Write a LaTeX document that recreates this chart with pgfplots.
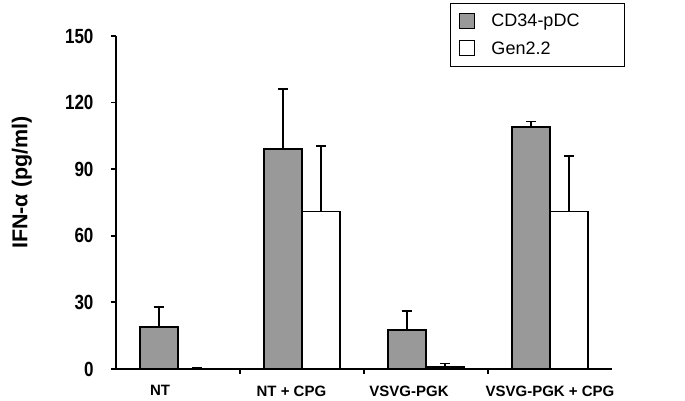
\documentclass[border=0pt]{standalone}
\usepackage{pgfplots}
\pgfplotsset{compat=1.18}
\usepackage{fontspec}
\setmainfont{Liberation Sans}
\newfontfamily\narrowbold[FakeStretch=0.83]{Liberation Sans Bold}
\definecolor{barGray}{HTML}{999999}
\pgfplotsset{sqlegend/.style={legend image code/.code={%
  \draw[##1,/tikz/.cd,line width=1.2pt] (0pt,-7pt) rectangle (15pt,8pt);
  \path[draw=none,fill=none] (0pt,0pt) rectangle (24pt,1pt);}}}

\begin{document}
\begin{tikzpicture}
\useasboundingbox (-116pt,-32pt) rectangle (569pt,369pt);
\begin{axis}[
  scale only axis, width=496pt, height=333pt,
  ybar=0pt, bar width=38pt,
  xmin=-0.5, xmax=3.5, ymin=0, ymax=150,
  ytick={0,30,...,150},
  xtick={-0.145,0.915,1.863,3.0},
  xticklabels={NT, NT + CPG, VSVG-PGK, VSVG-PGK + CPG},
  minor xtick={0.5,1.5,2.5},
  axis x line*=bottom, axis y line*=left,
  axis line style={line width=2.2pt},
  major x tick style={draw=none},
  minor tick length=5pt,
  major tick length=5pt,
  tick style={line width=1.8pt, black},
  ytick align=outside, xtick align=outside,
  /pgf/number format/assume math mode=true,
  yticklabel style={font=\narrowbold\fontsize{20.5}{21}\selectfont, xshift=-14pt},
  xticklabel style={font=\bfseries\fontsize{15}{15}\selectfont, yshift=-8pt},
  ylabel={IFN-α (pg/ml)},
  ylabel style={font=\bfseries\fontsize{21.5}{22}\selectfont, at={(axis description cs:-0.19,0.56)}, anchor=center},
  legend style={at={(1.026,1.099)}, anchor=north east, draw=black, line width=0.8pt,
    font=\fontsize{18}{20}\selectfont, nodes={text width=117pt, inner xsep=8pt}, row sep=9pt,
    inner xsep=8pt, inner ysep=9pt},
  legend cell align=left,
  error bars/y dir=plus, error bars/y explicit,
  error bars/error bar style={line width=1.6pt, black},
  error bars/error mark options={rotate=90, mark size=5pt, line width=1.6pt, black},
]
\addplot[fill=barGray, draw=black, line width=1.5pt, sqlegend]
  coordinates {(0,19) +- (0,9) (1,99) +- (0,27) (2,17.5) +- (0,8.5) (3,109) +- (0,2.5)};
\addlegendentry{CD34-pDC}
\addplot[fill=white, draw=black, line width=1.5pt, sqlegend]
  coordinates {(0,0.2) +- (0,0.3) (1,71) +- (0,29.5) (2,1) +- (0,1.5) (3,71) +- (0,25)};
\addlegendentry{Gen2.2\rule[-7pt]{0pt}{7pt}}
\end{axis}
\end{tikzpicture}
\end{document}
